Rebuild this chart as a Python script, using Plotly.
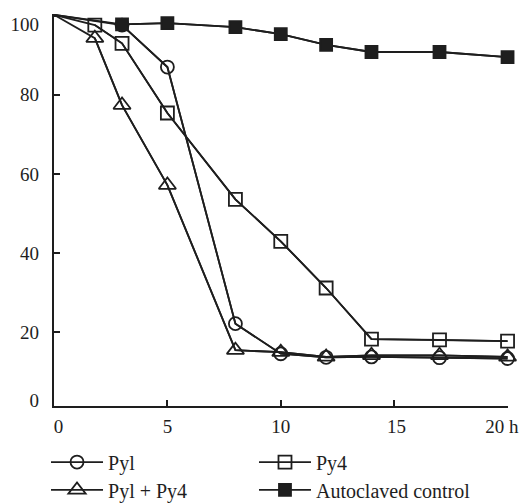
import plotly.graph_objects as go

# ---- data ----
t_pyl = [0, 3, 5, 8, 10, 12, 14, 17, 20]
v_pyl = [100.2, 97.6, 87.0, 22.2, 14.6, 13.7, 13.8, 13.6, 13.4]

t_py4 = [0, 1.8, 3, 5, 8, 10, 12, 14, 17, 20]
v_py4 = [100.2, 97.6, 93.0, 75.4, 53.6, 43.0, 31.2, 18.3, 18.1, 17.8]

t_mix = [0, 1.8, 3, 5, 8, 10, 12, 14, 17, 20]
v_mix = [100.2, 94.3, 77.4, 57.2, 15.5, 15.0, 13.8, 14.2, 14.2, 13.8]

t_ctl = [0, 3, 5, 8, 10, 12, 14, 17, 20]
v_ctl = [100.2, 97.8, 98.1, 97.1, 95.3, 92.6, 90.8, 90.8, 89.5]

x_ticks = [5, 10, 15, 20]
x_label_pos = [0.2, 5, 10, 15.1, 19.75]
x_labels = ["0", "5", "10", "15", "20 h"]
y_ticks = [20, 40, 60, 80, 100]
y_label_pos = [2.9, 20, 40, 60, 80, 97.8]
y_labels = ["0", "20", "40", "60", "80", "100"]

INK = "#1e1e1e"
FONT = "Liberation Serif"

series = [
    ("Pyl", t_pyl, v_pyl, "circle-open", 13, "legend"),
    ("Py4", t_py4, v_py4, "square-open", 13, "legend2"),
    ("Pyl + Py4", t_mix, v_mix, "triangle-up-open", 15, "legend3"),
    ("Autoclaved control", t_ctl, v_ctl, "square", 12, "legend4"),
]

fig = go.Figure()
for name, t, v, sym, size, lg in series:
    # full line from the origin point (no marker there)
    fig.add_trace(go.Scatter(
        x=t, y=v, mode="lines", line=dict(color=INK, width=1.8),
        showlegend=False, hoverinfo="skip", cliponaxis=False,
    ))
    fig.add_trace(go.Scatter(
        x=t[1:], y=v[1:], mode="lines+markers", name=name,
        line=dict(color=INK, width=1.8),
        marker=dict(symbol=sym, size=size, color=INK,
                    line=dict(color=INK, width=1.8)),
        legend=lg, cliponaxis=False,
    ))

# label-only axes (the reference's labels sit slightly off their ticks)
fig.add_trace(go.Scatter(x=[None], y=[None], xaxis="x2", yaxis="y2",
                         showlegend=False, hoverinfo="skip"))

yr = [1.4, 100.4]
xr = [0, 20.02]
common_axis = dict(showgrid=False, zeroline=False, automargin=False)
legend_common = dict(
    orientation="h", xanchor="left", yanchor="middle", itemwidth=52,
    font=dict(size=20, family=FONT, color=INK), bgcolor="rgba(0,0,0,0)",
)
col1_x, col2_x = -0.0176, 0.4405
row1_y, row2_y = -0.143, -0.214

fig.update_layout(
    width=519, height=504,
    margin=dict(l=54, r=11, t=14, b=98, autoexpand=False),
    paper_bgcolor="white", plot_bgcolor="white",
    font=dict(family=FONT, size=19, color=INK),
    xaxis=dict(
        range=xr, tickvals=x_ticks, ticktext=[""] * len(x_ticks),
        ticks="inside", ticklen=6, tickwidth=1.8, tickcolor=INK,
        showline=True, linecolor=INK, linewidth=2, **common_axis,
    ),
    xaxis2=dict(
        range=xr, overlaying="x", side="bottom", anchor="y",
        tickvals=x_label_pos, ticktext=x_labels, ticks="", showline=False,
        ticklabelstandoff=7, ticklabeloverflow="allow", **common_axis,
    ),
    yaxis=dict(
        range=yr, tickvals=y_ticks, ticktext=[""] * len(y_ticks),
        ticks="inside", ticklen=6, tickwidth=1.8, tickcolor=INK,
        showline=True, linecolor=INK, linewidth=2, **common_axis,
    ),
    yaxis2=dict(
        range=yr, overlaying="y", side="left", anchor="x",
        tickvals=y_label_pos, ticktext=y_labels, ticks="", showline=False,
        ticklabelstandoff=14, **common_axis,
    ),
    legend=dict(x=col1_x, y=row1_y, **legend_common),
    legend2=dict(x=col2_x, y=row1_y, **legend_common),
    legend3=dict(x=col1_x, y=row2_y, **legend_common),
    legend4=dict(x=col2_x, y=row2_y, **legend_common),
)

fig.write_html("out.html")
